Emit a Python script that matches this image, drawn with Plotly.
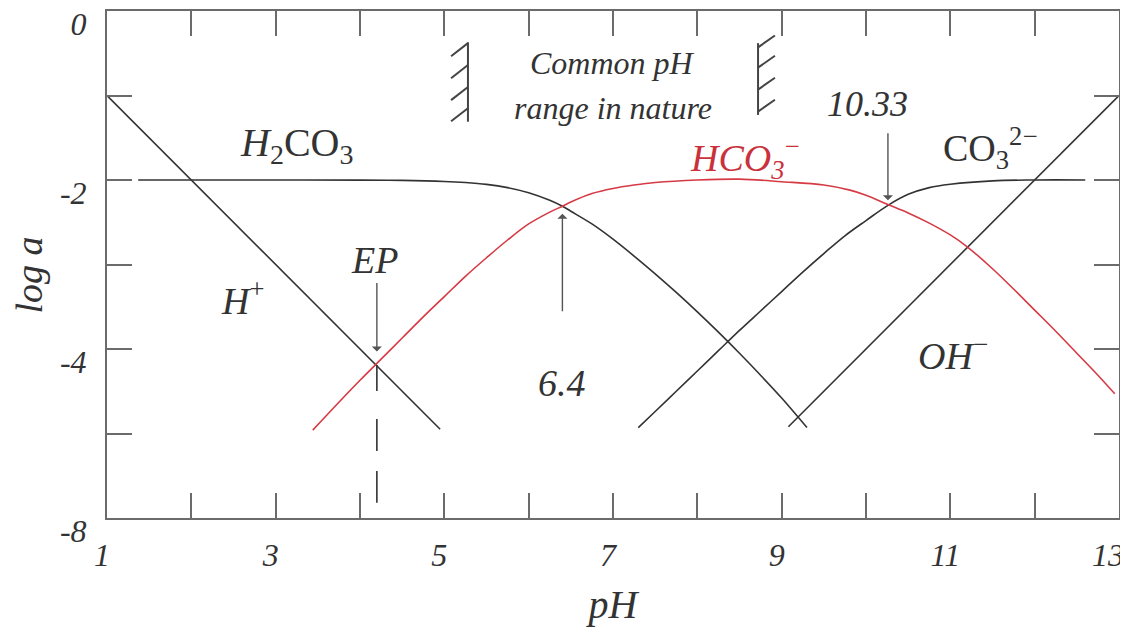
import plotly.graph_objects as go

# ---------------- data ----------------
ph_h2co3 = [1.37, 2, 3, 4, 4.5, 5, 5.25, 5.5, 5.75, 6, 6.25, 6.4, 6.5, 6.75, 7, 7.25,
            7.5, 7.75, 8, 8.25, 8.5, 8.75, 9, 9.3]
log_h2co3 = [-2.0, -2.0, -2.0, -2.002, -2.005, -2.017, -2.03, -2.052, -2.09, -2.15, -2.24,
             -2.31, -2.37, -2.52, -2.70, -2.90, -3.11, -3.33, -3.56, -3.80, -4.05, -4.31,
             -4.58, -4.93]

ph_hco3 = [3.44, 3.75, 4, 4.25, 4.5, 4.75, 5, 5.25, 5.5, 5.75, 6, 6.25, 6.4, 6.5, 6.75,
           7, 7.25, 7.5, 8, 8.5, 9, 9.5, 9.81, 10, 10.26, 10.5, 10.75, 11, 11.2, 11.5,
           11.75, 12, 12.25, 12.5, 12.75, 12.95]
log_hco3 = [-4.96, -4.63, -4.37, -4.12, -3.87, -3.62, -3.38, -3.14, -2.92, -2.71, -2.52,
            -2.38, -2.31, -2.26, -2.16, -2.10, -2.06, -2.03, -2.0, -1.99, -2.02, -2.06,
            -2.12, -2.18, -2.29, -2.39, -2.51, -2.65, -2.79, -3.05, -3.29, -3.54, -3.79,
            -4.05, -4.31, -4.53]

ph_co3 = [7.3, 7.5, 7.75, 8, 8.25, 8.5, 8.75, 9, 9.25, 9.5, 9.75, 10, 10.26, 10.5, 10.75,
          11, 11.5, 12, 12.6]
log_co3 = [-4.93, -4.74, -4.50, -4.26, -4.02, -3.78, -3.55, -3.32, -3.09, -2.87, -2.66,
           -2.48, -2.30, -2.17, -2.09, -2.05, -2.01, -2.0, -2.0]

ph_h = [1, 4.95]
log_h = [-1, -4.95]

ph_oh = [9.08, 13]
log_oh = [-4.92, -1]

# x labels; the last one (13) sits at the right edge and is drawn as an annotation
x_tickvals = [1, 3, 5, 7, 9, 11]
x_ticktext = ["1", "3", "5", "7", "9", "11"]
x_last_val = 13
x_last_text = "13"
x_minorvals = [2, 4, 6, 8, 10, 12, 13]
y_tickvals = [0, -2, -4, -6]
y_ticktext = ["0", "-2", "-4", "-8"]
y_minorvals = [-1, -3, -5]

ep_ph = 4.2
ep_log = -4.19
ep_dash_bottom = -5.82
pk1 = 6.4
pk2_mark = 10.26
nature_range = [5.28, 8.72]

# ---------------- styling ----------------
FONT = "Liberation Serif"
BLACK = "#333333"
RED = "#d63a44"
AXIS = "#6b6b6b"

fig = go.Figure()

def curve(x, y, color, name, shape="spline"):
    fig.add_trace(go.Scatter(x=x, y=y, mode="lines", name=name,
                             line=dict(color=color, width=1.6, shape=shape, smoothing=1.0),
                             showlegend=False, hoverinfo="skip"))

curve(ph_h2co3, log_h2co3, BLACK, "H2CO3")
curve(ph_co3, log_co3, BLACK, "CO3 2-")
curve(ph_h, log_h, BLACK, "H+", "linear")
curve(ph_oh, log_oh, BLACK, "OH-", "linear")
curve(ph_hco3, log_hco3, RED, "HCO3-")

# EP dashed vertical
fig.add_trace(go.Scatter(x=[ep_ph, ep_ph], y=[ep_log, ep_dash_bottom], mode="lines",
                         line=dict(color=BLACK, width=1.6, dash="26px,28px,32px,20px,33px"),
                         showlegend=False, hoverinfo="skip"))

# hatched markers of the common natural pH range
shapes = []
lo, hi = nature_range
HATCH = dict(color="#444444", width=2)
shapes.append(dict(type="line", xref="x", yref="y", x0=lo, x1=lo, y0=-0.37, y1=-1.31, line=HATCH))
for yy in [-0.38, -0.64, -0.90, -1.15]:
    shapes.append(dict(type="line", xref="x", yref="y", x0=lo, x1=lo - 0.2, y0=yy,
                       y1=yy - 0.155, line=HATCH))
shapes.append(dict(type="line", xref="x", yref="y", x0=hi, x1=hi, y0=-0.38, y1=-1.23, line=HATCH))
for yy in [-0.43, -0.67, -0.93, -1.19]:
    shapes.append(dict(type="line", xref="x", yref="y", x0=hi, x1=hi + 0.2, y0=yy,
                       y1=yy + 0.14, line=HATCH))

annotations = []

def arrow(x, y_tail, y_tip):
    annotations.append(dict(x=x, y=y_tip, ax=x, ay=y_tail, xref="x", yref="y",
                            axref="x", ayref="y", text="", showarrow=True,
                            arrowhead=1, arrowsize=1.2, arrowwidth=1.4,
                            arrowcolor="#555555", standoff=0, startstandoff=0))

arrow(ep_ph, -3.2, -4.03)
arrow(pk1, -3.57, -2.40)
arrow(pk2_mark, -1.43, -2.24)

def label(x, y, text, size=38, color=BLACK):
    annotations.append(dict(x=x, y=y, xref="x", yref="y", text=text, showarrow=False,
                            xanchor="center", yanchor="middle",
                            font=dict(family=FONT, size=size, color=color)))

label(3.25, -1.58, "<i>H</i><sub>2</sub>CO<sub>3</sub>", size=40)
label(2.61, -3.40, "<i>H</i><sup>+</sup>")
label(4.17, -2.95, "<i>EP</i>")
label(6.40, -4.40, "<i>6.4</i>")
label(10.02, -1.10, "<i>10.33</i>", size=36)
label(8.57, -1.74, "<i>HCO</i><sub><i>3</i></sub><sup>−</sup>", color="#c9323c")
label(11.47, -1.62, "CO<sub>3</sub><sup>2−</sup>")
label(11.03, -4.05, "<i>OH</i><sup>−</sup>")
label(6.99, -0.62, "<i>Common pH</i>", size=32)
label(7.0, -1.15, "<i>range in nature</i>", size=32)

TICKFONT = dict(family=FONT, size=32, color=BLACK, style="italic")

# last x tick label, nudged left so it stays inside the page
annotations.append(dict(text=x_last_text, xref="x", yref="paper", x=x_last_val, y=0,
                        xanchor="center", yanchor="middle", xshift=-11, yshift=-37,
                        showarrow=False, font=TICKFONT))

# y-axis title placed beside the axis
annotations.append(dict(text="<i>log a</i>", xref="paper", yref="paper", x=0, y=0.5,
                        xanchor="center", yanchor="middle", xshift=-79, yshift=-11,
                        textangle=-90, showarrow=False,
                        font=dict(family=FONT, size=38, color=BLACK)))

# page body adds an 8px offset; the figure is sized so the plot area lands at
# x 107..1119, y 11..518 of the 1128x641 window
fig.update_layout(
    width=1120, height=633, autosize=False,
    margin=dict(l=99, r=9, t=3, b=123),
    paper_bgcolor="white", plot_bgcolor="white",
    shapes=shapes, annotations=annotations,
    showlegend=False,
    xaxis=dict(range=[1, 13], tickmode="array", tickvals=x_tickvals, ticktext=x_ticktext,
               ticks="inside", ticklen=25, tickwidth=2, tickcolor=AXIS,
               minor=dict(tickmode="array", tickvals=x_minorvals, ticks="inside",
                          ticklen=25, tickwidth=2, tickcolor=AXIS, showgrid=False),
               showline=True, linewidth=2, linecolor=AXIS, mirror="ticks",
               showgrid=False, zeroline=False, ticklabelstandoff=8, ticklabelshift=-5,
               ticklabeloverflow="allow", automargin=False,
               tickfont=TICKFONT,
               title=dict(text="<i>pH</i>", standoff=18,
                          font=dict(family=FONT, size=40, color=BLACK))),
    yaxis=dict(range=[-6, 0], tickmode="array", tickvals=y_tickvals, ticktext=y_ticktext,
               ticks="inside", ticklen=25, tickwidth=2, tickcolor=AXIS,
               minor=dict(tickmode="array", tickvals=y_minorvals, ticks="inside",
                          ticklen=25, tickwidth=2, tickcolor=AXIS, showgrid=False),
               showline=True, linewidth=2, linecolor=AXIS, mirror="ticks",
               showgrid=False, zeroline=False, ticklabelstandoff=12, ticklabelshift=13,
               ticklabeloverflow="allow", automargin=False,
               tickfont=TICKFONT),
)

fig.write_html("out.html")
